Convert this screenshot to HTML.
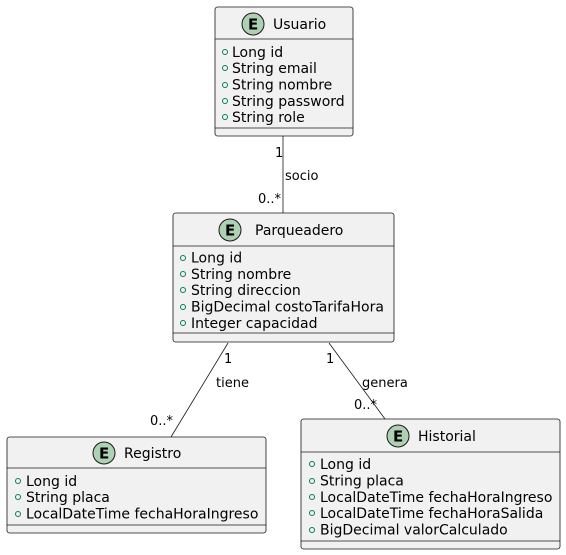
<!DOCTYPE html>
<html><head><meta charset="utf-8"><style>
html,body{margin:0;padding:0;background:#fff;}
svg{display:block;font-family:"DejaVu Sans","Liberation Sans",sans-serif;}
.b{fill:#F1F1F1;stroke:#181818;stroke-width:0.8;}
.l{stroke:#181818;stroke-width:0.8;fill:none;}
.t{font-size:14px;fill:#000;}
.a{font-size:14px;fill:#000;}
.c{fill:none;stroke:#038048;stroke-width:1;}
.e{fill:#ADD1B2;stroke:#181818;stroke-width:1;}
.eb{font-size:15px;font-weight:bold;fill:#000;}
.s{font-size:13px;fill:#000;}
</style></head><body>
<svg width="566" height="555" viewBox="0 0 566 555" xmlns="http://www.w3.org/2000/svg">
<line class="l" x1="283" y1="136" x2="283" y2="213"/>
<line class="l" x1="228" y1="343" x2="171" y2="437"/>
<line class="l" x1="329" y1="343" x2="385" y2="419"/>
<text class="s" x="275" y="157">1</text>
<text class="s" x="285" y="180">socio</text>
<text class="s" x="258" y="203">0..*</text>
<text class="s" x="224" y="363">1</text>
<text class="s" x="216" y="387">tiene</text>
<text class="s" x="150" y="425">0..*</text>
<text class="s" x="326" y="363">1</text>
<text class="s" x="362" y="387">genera</text>
<text class="s" x="354" y="409">0..*</text>

<rect class="b" x="215" y="7" width="138" height="129" rx="2.5"/>
<line class="l" x1="215" y1="39" x2="353" y2="39"/>
<line class="l" x1="215" y1="128" x2="353" y2="128"/>
<circle class="e" cx="253" cy="24" r="11"/>
<text class="eb" x="248" y="29.5">E</text>
<text class="t" x="273" y="29">Usuario</text>
<g class="a">
<circle class="c" cx="225" cy="52" r="2.5"/><text x="232" y="57">Long id</text>
<circle class="c" cx="225" cy="68" r="2.5"/><text x="232" y="73">String email</text>
<circle class="c" cx="225" cy="85" r="2.5"/><text x="232" y="89.5">String nombre</text>
<circle class="c" cx="225" cy="101" r="2.5"/><text x="232" y="106">String password</text>
<circle class="c" cx="225" cy="117" r="2.5"/><text x="232" y="122">String role</text>
</g>

<rect class="b" x="173" y="213" width="221" height="129" rx="2.5"/>
<line class="l" x1="173" y1="246" x2="394" y2="246"/>
<line class="l" x1="173" y1="333" x2="394" y2="333"/>
<circle class="e" cx="230" cy="230" r="11"/>
<text class="eb" x="225" y="235.5">E</text>
<text class="t" x="255" y="235">Parqueadero</text>
<g class="a">
<circle class="c" cx="183" cy="258" r="2.5"/><text x="191" y="262.5">Long id</text>
<circle class="c" cx="183" cy="274" r="2.5"/><text x="191" y="279">String nombre</text>
<circle class="c" cx="183" cy="290" r="2.5"/><text x="191" y="295">String direccion</text>
<circle class="c" cx="183" cy="307" r="2.5"/><text x="191" y="311.5">BigDecimal costoTarifaHora</text>
<circle class="c" cx="183" cy="323" r="2.5"/><text x="191" y="328">Integer capacidad</text>
</g>

<rect class="b" x="7" y="437" width="259" height="96" rx="2.5"/>
<line class="l" x1="7" y1="468" x2="266" y2="468"/>
<line class="l" x1="7" y1="525" x2="266" y2="525"/>
<circle class="e" cx="104" cy="453" r="11"/>
<text class="eb" x="99" y="458.5">E</text>
<text class="t" x="124" y="458">Registro</text>
<g class="a">
<circle class="c" cx="18" cy="481" r="2.5"/><text x="26" y="486">Long id</text>
<circle class="c" cx="18" cy="497" r="2.5"/><text x="26" y="502">String placa</text>
<circle class="c" cx="18" cy="514" r="2.5"/><text x="26" y="518.5">LocalDateTime fechaHoraIngreso</text>
</g>

<rect class="b" x="301" y="419" width="259" height="130" rx="2.5"/>
<line class="l" x1="301" y1="452" x2="560" y2="452"/>
<line class="l" x1="301" y1="541" x2="560" y2="541"/>
<circle class="e" cx="398" cy="436" r="11"/>
<text class="eb" x="393" y="441.5">E</text>
<text class="t" x="418" y="441">Historial</text>
<g class="a">
<circle class="c" cx="312" cy="464" r="2.5"/><text x="320" y="469">Long id</text>
<circle class="c" cx="312" cy="481" r="2.5"/><text x="320" y="485.5">String placa</text>
<circle class="c" cx="312" cy="497" r="2.5"/><text x="320" y="502">LocalDateTime fechaHoraIngreso</text>
<circle class="c" cx="312" cy="513" r="2.5"/><text x="320" y="518">LocalDateTime fechaHoraSalida</text>
<circle class="c" cx="312" cy="530" r="2.5"/><text x="320" y="534.5">BigDecimal valorCalculado</text>
</g>
</svg>
</body></html>
